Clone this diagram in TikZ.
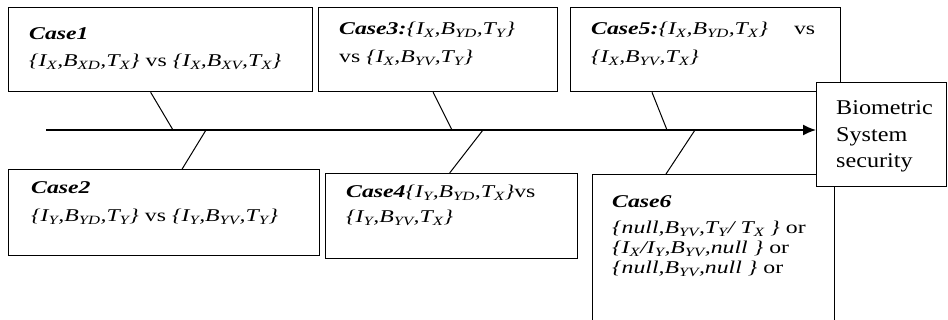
\documentclass[tikz,border=0pt]{standalone}
\usepackage{fontspec}
\setmainfont[FakeStretch=1.32]{Liberation Serif}
\newfontfamily\biofont[FakeStretch=1.15]{Liberation Serif}
\usetikzlibrary{arrows.meta,positioning}

\newcommand{\sbx}[1]{\textsubscript{#1}}
\newcommand{\cs}[1]{\textbf{\textit{#1}}}

\tikzset{
  casebox/.style={draw, line width=1.3pt, fill=white, anchor=north west, inner sep=0pt},
  casetext/.style={anchor=base west, inner sep=0pt, align=left, text width=280pt,
    font=\fontsize{18}{20}\selectfont},
  spoke/.style={line width=1pt}
}

\begin{document}
\begin{tikzpicture}[x=1pt,y=-1pt]
  \clip (0,0) rectangle (948,320);

  % boxes
  \node[casebox, minimum width=304pt, minimum height=84pt] (case1) at (8,7) {};
  \node[casebox, minimum width=239pt, minimum height=84pt] (case3) at (318,7) {};
  \node[casebox, minimum width=270pt, minimum height=84pt] (case5) at (570,7) {};
  \node[casebox, minimum width=311pt, minimum height=86pt] (case2) at (8,169) {};
  \node[casebox, minimum width=252pt, minimum height=85pt] (case4) at (325,173) {};
  \node[casebox, minimum width=242pt, minimum height=170pt] (case6) at (592,174) {};
  \node[casebox, minimum width=130pt, minimum height=104pt] (bio) at (816,82) {};

  % texts
  \node[casetext] (t1) at ([shift={(21pt,-33pt)}]case1.north west)
    {\cs{Case1}\\[7pt]\textit{\{I\sbx{X},B\sbx{XD},T\sbx{X}\}} vs \textit{\{I\sbx{X},B\sbx{XV},T\sbx{X}\}}};
  \node[casetext] (t2) at ([shift={(23pt,-25pt)}]case2.north west)
    {\cs{Case2}\\[8pt]\textit{\{I\sbx{Y},B\sbx{YD},T\sbx{Y}\}} vs \textit{\{I\sbx{Y},B\sbx{YV},T\sbx{Y}\}}};
  \node[casetext] (t3) at ([shift={(21pt,-28pt)}]case3.north west)
    {\cs{Case3:}\textit{\{I\sbx{X},B\sbx{YD},T\sbx{Y}\}}\\[8pt]vs \textit{\{I\sbx{X},B\sbx{YV},T\sbx{Y}\}}};
  \node[casetext] (t4) at ([shift={(21pt,-25pt)}]case4.north west)
    {\cs{Case4}\textit{\{I\sbx{Y},B\sbx{YD},T\sbx{X}\}}vs\\[5pt]\textit{\{I\sbx{Y},B\sbx{YV},T\sbx{X}\}}};
  \node[casetext, text width=224pt] (t5) at ([shift={(21pt,-28pt)}]case5.north west)
    {\cs{Case5:}\textit{\{I\sbx{X},B\sbx{YD},T\sbx{X}\}}\hfill vs\\[8pt]\textit{\{I\sbx{X},B\sbx{YV},T\sbx{X}\}}};
  \node[casetext] (t6) at ([shift={(20pt,-34pt)}]case6.north west)
    {\cs{Case6}\\[6pt]
     \textit{\{null,B\sbx{YV},T\sbx{Y}/ T\sbx{X} \}} or\\
     \textit{\{I\sbx{X}/I\sbx{Y},B\sbx{YV},null \}} or\\
     \textit{\{null,B\sbx{YV},null \}} or};
  \node[casetext, text width=110pt, font=\biofont\fontsize{21}{26.5}\selectfont] (tb)
    at ([shift={(20pt,-33pt)}]bio.north west) {Biometric\\System\\security};

  % spine
  \coordinate (tail) at (46,130);
  \draw[line width=1.4pt, -{Latex[length=13pt,width=11pt]}] (tail) -- (tail -| bio.west);

  % joints on the spine
  \coordinate (j1) at (173,130);
  \coordinate (j2) at (206,130);
  \coordinate (j3) at (452,130);
  \coordinate (j4) at (483,130);
  \coordinate (j5) at (667,130);
  \coordinate (j6) at (695,130);

  \draw[spoke] ([xshift=-10pt]case1.south) -- (j1);
  \draw[spoke] ([xshift=18pt]case2.north) -- (j2);
  \draw[spoke] ([xshift=-5pt]case3.south) -- (j3);
  \draw[spoke] ([xshift=-2pt]case4.north) -- (j4);
  \draw[spoke] ([xshift=82pt]case5.south west) -- (j5);
  \draw[spoke] ([xshift=74pt]case6.north west) -- (j6);
\end{tikzpicture}
\end{document}
